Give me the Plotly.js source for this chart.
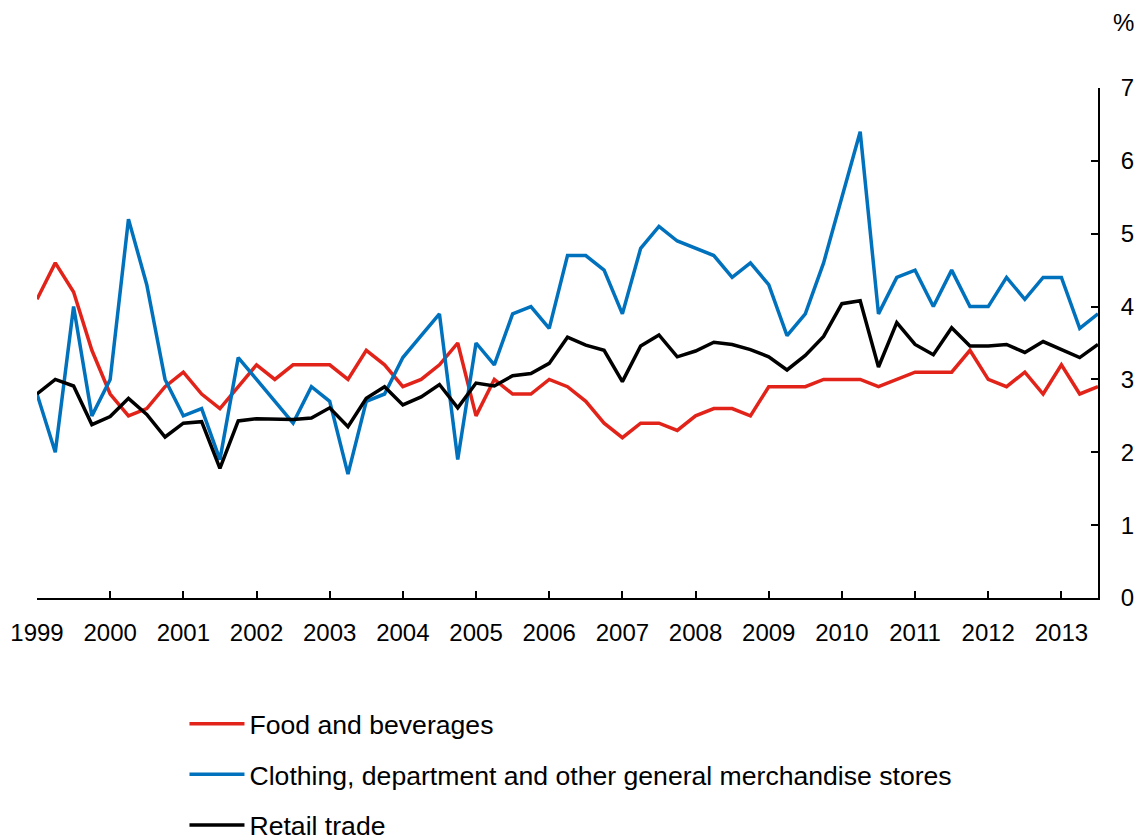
<!DOCTYPE html>
<html>
<head>
<meta charset="utf-8">
<script src="https://cdn.plot.ly/plotly-3.0.1.min.js"></script>
<style>html,body{margin:0;padding:0;background:#fff;}#chart{width:1143px;height:840px;}</style>
</head>
<body>
<div id="chart"></div>
<script>
// Quarterly data, 1999 Q1 to 2013 Q3
var startYear = 1999;
var yearTicks = [1999,2000,2001,2002,2003,2004,2005,2006,2007,2008,2009,2010,2011,2012,2013];
var yearLabels = ["1999","2000","2001","2002","2003","2004","2005","2006","2007","2008","2009","2010","2011","2012","2013"];

var foodBeverages = [4.1,4.6,4.2,3.4,2.8,2.5,2.6,2.9,3.1,2.8,2.6,2.9,3.2,3.0,3.2,3.2,3.2,
  3.0,3.4,3.2,2.9,3.0,3.2,3.5,2.5,3.0,2.8,2.8,3.0,2.9,2.7,2.4,
  2.2,2.4,2.4,2.3,2.5,2.6,2.6,2.5,2.9,2.9,2.9,3.0,3.0,3.0,2.9,
  3.0,3.1,3.1,3.1,3.4,3.0,2.9,3.1,2.8,3.2,2.8,2.9];

var clothingStores = [2.8,2.0,4.0,2.5,3.0,5.2,4.3,3.0,2.5,2.6,1.9,3.3,3.0,2.7,2.4,2.9,2.7,
  1.7,2.7,2.8,3.3,3.6,3.9,1.9,3.5,3.2,3.9,4.0,3.7,4.7,4.7,4.5,
  3.9,4.8,5.1,4.9,4.8,4.7,4.4,4.6,4.3,3.6,3.9,4.6,5.5,6.4,3.9,
  4.4,4.5,4.0,4.5,4.0,4.0,4.4,4.1,4.4,4.4,3.7,3.9];

var retailTrade = [2.8,3.0,2.91,2.38,2.49,2.74,2.52,2.21,2.4,2.42,1.78,2.43,2.46,2.45,2.45,2.47,2.61,
  2.35,2.74,2.9,2.65,2.76,2.93,2.61,2.95,2.91,3.05,3.08,3.22,3.58,3.47,3.4,
  2.97,3.46,3.61,3.31,3.39,3.51,3.48,3.41,3.31,3.13,3.33,3.59,4.04,4.08,3.17,
  3.78,3.48,3.34,3.71,3.46,3.46,3.48,3.37,3.52,3.41,3.3,3.48];

var seriesNames = ["Food and beverages","Clothing, department and other general merchandise stores","Retail trade"];
var seriesColors = ["#e2231a","#0071bc","#000000"];

var quarters = foodBeverages.map(function(_, i){ return startYear + i/4; });

var font = "Arial, 'Liberation Sans', sans-serif";
var seriesData = [foodBeverages, clothingStores, retailTrade];
var traces = seriesData.map(function(vals, k){
  return {
    x: quarters, y: vals, type: "scatter", mode: "lines",
    name: seriesNames[k], legendgroup: "g"+k,
    line: {color: seriesColors[k], width: 3.5},
    yaxis: "y", hoverinfo: "x+y"
  };
});

var layout = {
  width: 1143, height: 840,
  margin: {l: 37, r: 45, t: 88, b: 242, autoexpand: false},
  paper_bgcolor: "#fff", plot_bgcolor: "#fff",
  font: {family: font, size: 24, color: "#000"},
  showlegend: true,
  legend: {
    x: 0.139, y: -0.2, xanchor: "left", yanchor: "top",
    orientation: "v", tracegroupgap: 13, itemwidth: 55,
    font: {family: font, size: 26.6, color: "#000"},
    bgcolor: "rgba(0,0,0,0)"
  },
  xaxis: {
    range: [1999, 2013.5], tickvals: yearTicks, ticktext: yearLabels,
    ticks: "inside", ticklen: 7, tickwidth: 2, tickcolor: "#000",
    showline: true, linecolor: "#000", linewidth: 2,
    showgrid: false, zeroline: false, fixedrange: true,
    ticklabelstandoff: 12,
    tickfont: {family: font, size: 24, color: "#000"}
  },
  yaxis: {
    side: "right", range: [0, 7], dtick: 1, tick0: 0,
    ticks: "inside", ticklen: 7, tickwidth: 2, tickcolor: "#000",
    showline: true, linecolor: "#000", linewidth: 2,
    showgrid: false, zeroline: false,
    ticklabelstandoff: 16,
    tickfont: {family: font, size: 24, color: "#000"}
  },
  yaxis2: {
    overlaying: "y", side: "left", range: [0, 6], dtick: 1, tick0: 0,
    ticks: "inside", ticklen: 7, tickwidth: 2, tickcolor: "#000",
    showline: true, linecolor: "#000", linewidth: 2,
    showgrid: false, zeroline: false, showticklabels: false
  },
  annotations: [{
    text: "%", xref: "paper", yref: "paper", x: 1.0236, y: 1.129,
    xanchor: "center", yanchor: "middle", showarrow: false,
    font: {family: font, size: 24, color: "#000"}
  }]
};

Plotly.newPlot("chart", traces, layout, {displayModeBar: false, staticPlot: true});
</script>
</body>
</html>
